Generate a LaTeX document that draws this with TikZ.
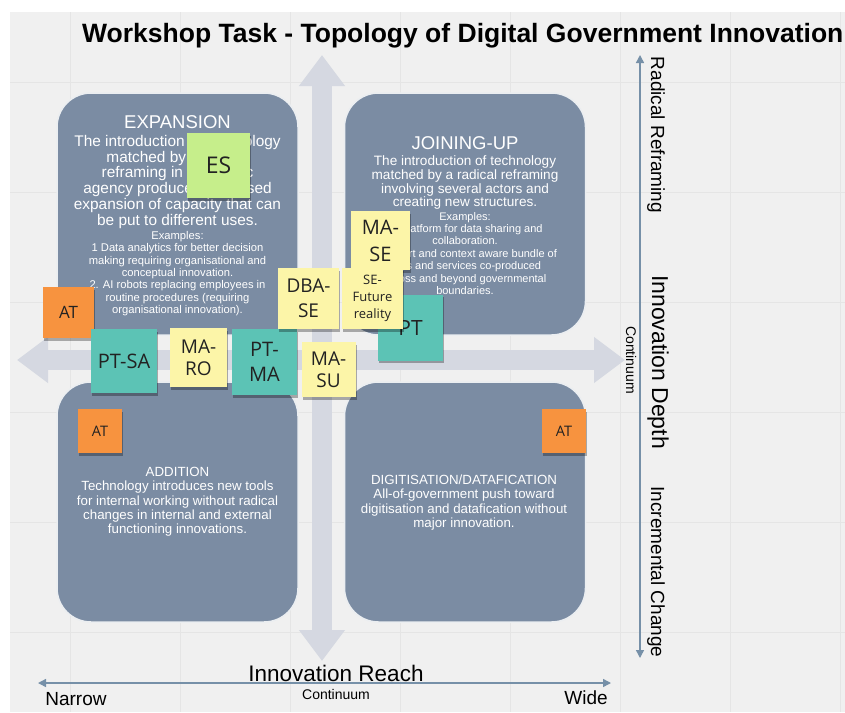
\documentclass[tikz,border=0pt]{standalone}
\usepackage{fontspec}
\setmainfont{Liberation Sans}
\newfontfamily\stickyfont{Open Sans}
\usetikzlibrary{arrows.meta,shadows}
\definecolor{bgc}{HTML}{F0F0F0}
\definecolor{gridc}{HTML}{E5E5E5}
\definecolor{bigarrow}{HTML}{D5D8E1}
\definecolor{axisc}{HTML}{7690A8}
\definecolor{quadc}{HTML}{7B8CA3}
\definecolor{tealc}{HTML}{5CC3B5}
\definecolor{yellowc}{HTML}{FCF5A8}
\definecolor{greenc}{HTML}{C6EE8B}
\definecolor{orangec}{HTML}{F7933F}
\definecolor{inkc}{HTML}{222222}
\begin{document}
\begin{tikzpicture}[x=1pt,y=-1pt,
  quad/.style={draw=white!85!quadc, line width=1.5pt, fill=quadc, rounded corners=34pt, inner sep=0pt},
  qtext/.style={text=white, align=center, inner sep=0pt},
  sticky/.style={inner sep=0pt, align=center, text=inkc,
     drop shadow={shadow xshift=1pt, shadow yshift=-2.5pt, opacity=0.3, fill=black}},
  bigarr/.style={draw=bigarrow, line width=20pt,
     {Triangle[width=44pt,length=31pt]}-{Triangle[width=44pt,length=31pt]}},
  axis/.style={draw=axisc, line width=1.4pt,
     {Triangle[width=8pt,length=8pt]}-{Triangle[width=8pt,length=8pt]}},
  lab/.style={text=black, inner sep=0pt}
]
% canvas
\fill[white] (0,0) rectangle (845,712);
\useasboundingbox (0,0) rectangle (845,712);
\clip (0,0) rectangle (845,712);
\fill[bgc] (10,12) rectangle (845,712);
\foreach \gx in {70,180,290,400,510,620,730,840} \draw[gridc, line width=0.7pt] (\gx,12) -- (\gx,712);
\foreach \gy in {82,192,302,412,522,632} \draw[gridc, line width=0.7pt] (10,\gy) -- (845,\gy);

% title
\node[lab, anchor=west, font=\bfseries\fontsize{26.5}{30}\selectfont] (title) at (82,36)
  {Workshop Task - Topology of Digital Government Innovation};

% big axis arrows
\coordinate (vtop) at (322,55);
\coordinate (vbot) at (322,661);
\coordinate (hleft) at (17,360);
\coordinate (hright) at (625,360);
\draw[bigarr] (vtop) -- (vbot);
\draw[bigarr] (hleft) -- (hright);

% quadrants
\node[quad, minimum width=241pt, minimum height=242pt] (qtl) at (177.5,214) {};
\node[quad, minimum width=241pt, minimum height=242pt] (qtr) at (465,214) {};
\node[quad, minimum width=241pt, minimum height=240pt] (qbl) at (177.5,502) {};
\node[quad, minimum width=241pt, minimum height=240pt] (qbr) at (465,502) {};

% quadrant texts
\node[qtext, font=\fontsize{18.5}{20}\selectfont] (tlhead) at (177.5,122) {EXPANSION};
\node[qtext, anchor=north, font=\fontsize{15.4}{15.8}\selectfont] (tlbody) at (177.5,135)
  {The introduction of technology\\matched by a radical\\reframing in the public\\agency produces increased\\expansion of capacity that can\\be put to different uses.};
\node[qtext, anchor=north, font=\fontsize{11.2}{12.4}\selectfont] (tlex) at (177.5,231)
  {Examples:\\1 Data analytics for better decision\\making requiring organisational and\\conceptual innovation.\\2. AI robots replacing employees in\\routine procedures (requiring\\organisational innovation).};

\node[qtext, font=\fontsize{18.5}{20}\selectfont] (trhead) at (465,143) {JOINING-UP};
\node[qtext, anchor=north, font=\fontsize{13.6}{13.8}\selectfont] (trbody) at (465,155.5)
  {The introduction of technology\\matched by a radical reframing\\involving several actors and\\creating new structures.};
\node[qtext, anchor=north, font=\fontsize{11}{12.4}\selectfont] (trex) at (465,212)
  {Examples:\\1. Platform for data sharing and\\collaboration.\\2. Smart and context aware bundle of\\tools and services co-produced\\across and beyond governmental\\boundaries.};

\node[qtext, font=\fontsize{13.3}{14}\selectfont] (blhead) at (177.5,472) {ADDITION};
\node[qtext, anchor=north, font=\fontsize{13.3}{14.3}\selectfont] (blbody) at (177.5,481)
  {Technology introduces new tools\\for internal working without radical\\changes in internal and external\\functioning innovations.};

\node[qtext, font=\fontsize{13.3}{14}\selectfont] (brhead) at (464,480) {DIGITISATION/DATAFICATION};
\node[qtext, anchor=north, font=\fontsize{13.3}{14.3}\selectfont] (brbody) at (464,489)
  {All-of-government push toward\\digitisation and datafication without\\major innovation.};

% right axis
\coordinate (rtop) at (640,55);
\coordinate (rbot) at (640,658);
\draw[axis] (rtop) -- (rbot);
\node[lab, rotate=-90, font=\fontsize{19}{20}\selectfont] (radical) at (656,135) {Radical Reframing};
\node[lab, rotate=-90, font=\fontsize{23}{24}\selectfont] (depth) at (658,362) {Innovation Depth};
\node[lab, rotate=-90, font=\fontsize{14}{15}\selectfont] (contv) at (631,360) {Continuum};
\node[lab, rotate=-90, font=\fontsize{19}{20}\selectfont] (incr) at (656,572) {Incremental Change};

% bottom axis
\coordinate (bleft) at (38,683);
\coordinate (bright) at (611,683);
\draw[axis] (bleft) -- (bright);
\node[lab, font=\fontsize{22.5}{24}\selectfont] (reach) at (336,673) {Innovation Reach};
\node[lab, font=\fontsize{14}{15}\selectfont] (conth) at (336,694) {Continuum};
\node[lab, font=\fontsize{19}{20}\selectfont] (narrow) at (76,699) {Narrow};
\node[lab, font=\fontsize{19}{20}\selectfont] (wide) at (586,698) {Wide};

% sticky notes
\node[sticky, fill=greenc, minimum width=63pt, minimum height=65pt, font=\stickyfont\fontsize{23}{26}\selectfont] (es) at (218.5,165.5) {ES};
\node[sticky, fill=orangec, minimum width=51pt, minimum height=51pt, font=\stickyfont\fontsize{17}{20}\selectfont] (at1) at (68.5,312.5) {AT};
\node[sticky, fill=tealc, minimum width=66pt, minimum height=64pt, font=\stickyfont\fontsize{20}{24}\selectfont] (ptsa) at (124,361) {PT-SA};
\node[sticky, fill=yellowc, minimum width=57pt, minimum height=59pt, font=\stickyfont\fontsize{19}{22}\selectfont] (maro) at (198.5,357.5) {MA-\\RO};
\node[sticky, fill=tealc, minimum width=65pt, minimum height=66pt, font=\stickyfont\fontsize{20}{25}\selectfont] (ptma) at (264.5,362) {PT-\\MA};
\node[sticky, fill=yellowc, minimum width=61pt, minimum height=61pt, font=\stickyfont\fontsize{19}{25}\selectfont] (dbase) at (308.5,298.5) {DBA-\\SE};
\node[sticky, fill=yellowc, minimum width=59pt, minimum height=59pt, font=\stickyfont\fontsize{20}{27}\selectfont] (mase) at (380.5,240.5) {MA-\\SE};
\node[sticky, fill=tealc, minimum width=65pt, minimum height=66pt, font=\stickyfont\fontsize{21}{24}\selectfont] (pt) at (410.5,327.5) {PT};
\node[sticky, fill=yellowc, minimum width=61pt, minimum height=61pt, font=\stickyfont\fontsize{13}{16.7}\selectfont] (sefut) at (372.5,298.5) {SE-\\Future\\reality};
\node[sticky, fill=yellowc, minimum width=54pt, minimum height=55pt, font=\stickyfont\fontsize{19}{22}\selectfont] (masu) at (328.5,369.5) {MA-\\SU};
\node[sticky, fill=orangec, minimum width=44pt, minimum height=44pt, font=\stickyfont\fontsize{14.5}{16}\selectfont] (at2) at (100,431) {AT};
\node[sticky, fill=orangec, minimum width=44pt, minimum height=44pt, font=\stickyfont\fontsize{14.5}{16}\selectfont] (at3) at (564,431) {AT};
\end{tikzpicture}
\end{document}
